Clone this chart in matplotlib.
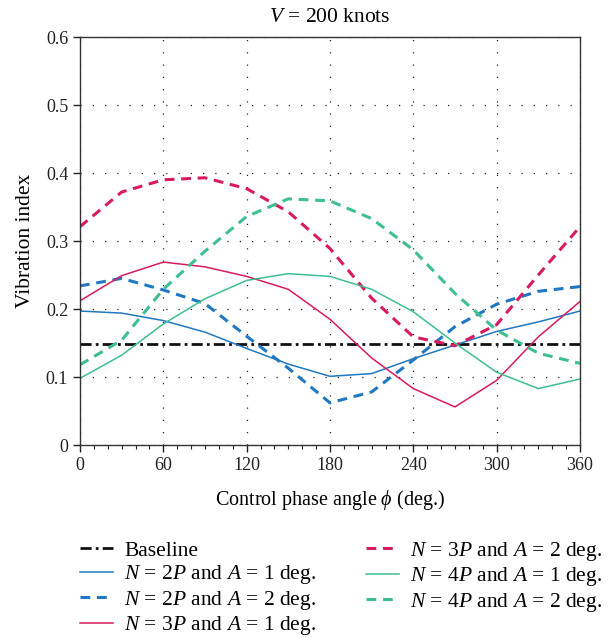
import matplotlib
matplotlib.use("Agg")
import matplotlib.pyplot as plt
from matplotlib.ticker import MultipleLocator

plt.rcParams['font.family'] = ['Liberation Serif', 'DejaVu Serif']
plt.rcParams['mathtext.fontset'] = 'custom'
plt.rcParams['mathtext.rm'] = 'Liberation Serif'
plt.rcParams['mathtext.it'] = 'Liberation Serif:italic'

phase = [0, 30, 60, 90, 120, 150, 180, 210, 240, 270, 300, 330, 360]
baseline = 0.148

n2_a1 = [0.197, 0.194, 0.183, 0.166, 0.142, 0.119, 0.101, 0.105, 0.127, 0.147, 0.167, 0.181, 0.197]
n2_a2 = [0.234, 0.245, 0.228, 0.208, 0.160, 0.113, 0.062, 0.078, 0.125, 0.174, 0.207, 0.226, 0.233]
n3_a1 = [0.212, 0.249, 0.269, 0.262, 0.248, 0.229, 0.185, 0.128, 0.083, 0.056, 0.095, 0.159, 0.211]
n3_a2 = [0.321, 0.372, 0.390, 0.393, 0.377, 0.343, 0.289, 0.216, 0.159, 0.146, 0.177, 0.250, 0.321]
n4_a1 = [0.098, 0.132, 0.178, 0.215, 0.242, 0.252, 0.248, 0.229, 0.196, 0.150, 0.107, 0.083, 0.097]
n4_a2 = [0.118, 0.154, 0.229, 0.285, 0.336, 0.362, 0.359, 0.333, 0.287, 0.223, 0.169, 0.135, 0.120]

blue = '#1f78c1'
red = '#d81b60'
green = '#3dbf8e'
dash = (0, (3.2, 2.2))

fig = plt.figure(figsize=(6.15, 6.38), dpi=100)
ax = fig.add_axes([0.130, 0.3025, 0.813, 0.6395])

ax.plot([0, 360], [baseline, baseline], color='#111111', lw=2.0, ls=(0, (4, 1.5, 1, 1.5)), label='Baseline')
ax.plot(phase, n2_a1, color=blue, lw=1.1, label=r'$N$ = 2$P$ and $A$ = 1 deg.')
ax.plot(phase, n2_a2, color=blue, lw=2.2, ls=dash, label=r'$N$ = 2$P$ and $A$ = 2 deg.')
ax.plot(phase, n3_a1, color=red, lw=1.1, label=r'$N$ = 3$P$ and $A$ = 1 deg.')
ax.plot(phase, n3_a2, color=red, lw=2.2, ls=dash, label=r'$N$ = 3$P$ and $A$ = 2 deg.')
ax.plot(phase, n4_a1, color=green, lw=1.1, label=r'$N$ = 4$P$ and $A$ = 1 deg.')
ax.plot(phase, n4_a2, color=green, lw=2.2, ls=dash, label=r'$N$ = 4$P$ and $A$ = 2 deg.')

ax.set_xlim(0, 360)
ax.set_ylim(0, 0.6)
ax.xaxis.set_major_locator(MultipleLocator(60))
ax.xaxis.set_minor_locator(MultipleLocator(10))
ax.set_yticks([0, 0.1, 0.2, 0.3, 0.4, 0.5, 0.6])
ax.set_yticklabels(['0', '0.1', '0.2', '0.3', '0.4', '0.5', '0.6'])
ax.grid(True, which='major', ls=(0, (1, 8.8)), color='#222222', lw=0.9)
ax.tick_params(which='major', direction='out', length=5, width=1, labelsize=13, colors='#222222')
ax.tick_params(which='minor', direction='out', length=3, width=0.8, colors='#222222')
ax.tick_params(axis='y', which='minor', left=False)
for s in ax.spines.values():
    s.set_color('#333333')
    s.set_linewidth(1.0)

ax.set_title(r'$V$ = 200 knots', fontsize=15.5, pad=11)
ax.set_xlabel(r'Control phase angle $\phi$ (deg.)', fontsize=14.5, labelpad=10)
ax.set_ylabel('Vibration index', fontsize=15.5, labelpad=8)

ax.legend(loc='upper left', bbox_to_anchor=(-0.017, -0.211), ncol=2, frameon=False,
          fontsize=15.5, handlelength=1.55, handletextpad=0.5, columnspacing=2.3,
          labelspacing=0.12, borderaxespad=0)

fig.savefig('out.png', dpi=100)
